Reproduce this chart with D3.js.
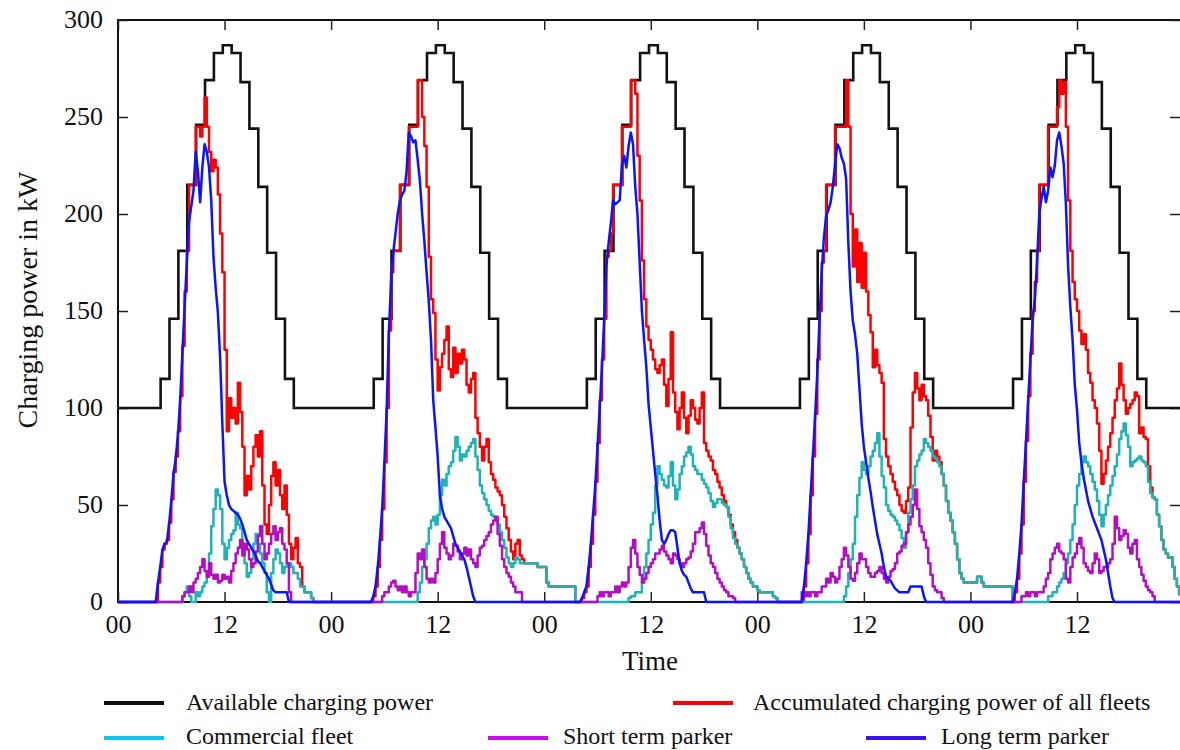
<!DOCTYPE html>
<html><head><meta charset="utf-8">
<script src="https://cdn.jsdelivr.net/npm/d3@7"></script>
<style>
html,body{margin:0;padding:0;background:#fff;}
svg{display:block;font-family:"Liberation Serif","DejaVu Serif","Times New Roman",serif;}
</style></head><body>
<svg id="chart" width="1180" height="750"></svg>
<script>
// ---- DATA ----
// Available charging power, hourly set-points (kW); each level switches ~12 min before the full hour
const availPower = [
100,100,100,100,100,115,146,181,215,246,269,283,287,283,268,244,214,180,146,115,100,100,100,100,
100,100,100,100,100,115,146,181,215,246,269,283,287,283,268,244,214,180,146,115,100,100,100,100,
100,100,100,100,100,115,146,181,215,246,269,283,287,283,268,244,214,180,146,115,100,100,100,100,
100,100,100,100,100,115,146,181,215,246,269,283,287,283,268,244,214,180,146,115,100,100,100,100,
100,100,100,100,100,115,146,181,215,246,269,283,287,283,268,244,214,180,146,115,100,100,100,100
];
// 15-minute samples (kW), t = 0 .. 119.75 h
const longTerm = [
0,0,0,0,0,0,0,0,0,0,0,0,0,0,0,0,0,0,10,18,27,30,31,40,
52,66,74,86,104,128,152,175,196,204,212,232,222,206,224,236,232,224,207,178,162,149,126,92,
62,55,50,48,47,46,45,43,40,36,32,30,28,26,24,21,20,18,16,14,12,9,6,5,
5,5,5,5,5,0,0,0,0,0,0,0,0,0,0,0,0,0,0,0,0,0,0,0,
0,0,0,0,0,0,0,0,0,0,0,0,0,0,0,0,0,0,0,3,8,18,32,48,
72,98,138,165,180,190,200,207,210,212,222,242,240,237,238,228,217,200,186,170,155,135,104,90,
75,55,48,44,42,40,38,34,30,28,26,24,22,18,13,8,3,0,0,0,0,0,0,0,
0,0,0,0,0,0,0,0,0,0,0,0,0,0,0,0,0,0,0,0,0,0,0,0,
0,0,0,0,0,0,0,0,0,0,0,0,0,0,0,0,0,2,5,8,18,30,45,60,
80,100,121,145,173,185,195,207,205,206,207,225,230,224,235,242,236,214,200,175,150,135,121,102,
90,78,66,55,42,32,30,32,35,37,37,36,28,20,16,14,13,10,7,5,5,5,5,5,
5,0,0,0,0,0,0,0,0,0,0,0,0,0,0,0,0,0,0,0,0,0,0,0,
0,0,0,0,0,0,0,0,0,0,0,0,0,0,0,0,0,0,0,0,0,8,20,35,
55,75,95,118,145,170,188,199,202,206,214,225,236,234,229,226,218,185,160,145,138,128,110,92,
80,72,64,57,49,42,35,30,25,18,13,12,11,9,7,6,5,5,5,5,5,8,8,8,
8,8,8,3,0,0,0,0,0,0,0,0,0,0,0,0,0,0,0,0,0,0,0,0,
0,0,0,0,0,0,0,0,0,0,0,0,0,0,0,0,0,0,0,0,5,12,25,40,
62,82,104,125,145,156,175,200,208,214,206,212,224,219,225,238,242,235,226,205,173,152,135,112,
99,82,72,64,58,52,48,44,41,38,35,32,27,22,15,8,2,0,0,0,0,0,0,0,
0,0,0,0,0,0,0,0,0,0,0,0,0,0,0,0,0,0,0,0,0,0,0,0
];
const accumulated = [
0,0,0,0,0,0,0,0,0,0,0,0,0,0,0,0,0,0,10,18,27,30,32,41,
53,67,75,88,106,132,160,181,215,215,215,245,245,240,245,260,245,232,222,228,224,210,190,170,
130,88,105,95,100,92,113,98,80,55,65,58,70,80,86,75,88,60,40,35,50,65,72,60,
68,55,48,60,45,30,22,28,33,20,18,8,5,5,5,2,0,0,0,0,0,0,0,0,
0,0,0,0,0,0,0,0,0,0,0,0,0,0,0,0,0,0,0,3,8,18,32,48,
72,100,140,170,181,181,181,215,215,215,215,245,245,245,245,269,269,250,235,214,178,156,149,125,
109,121,128,135,142,120,116,131,118,128,123,130,125,112,108,115,118,95,87,80,73,80,84,72,
66,63,59,57,55,50,44,38,32,26,22,30,32,24,22,20,20,20,20,20,20,18,18,18,
18,10,8,8,8,8,8,8,8,8,8,8,8,8,0,0,0,2,5,8,18,30,45,62,
82,104,125,146,178,181,190,215,215,215,215,245,245,245,245,269,269,262,230,207,176,156,142,135,
130,125,120,118,122,125,112,101,115,139,108,98,89,100,108,95,87,96,104,100,94,92,100,108,
82,78,75,73,68,66,62,59,55,52,49,45,40,36,32,28,25,22,18,15,12,10,8,8,
6,5,5,5,5,5,5,3,2,0,0,0,0,0,0,0,0,0,0,0,0,8,20,35,
55,75,97,125,150,175,181,215,215,215,215,245,245,245,245,245,269,245,200,173,192,165,185,162,
180,160,148,139,121,130,122,118,113,84,75,70,66,62,58,55,50,47,46,52,59,90,108,118,
110,104,112,106,104,96,85,73,78,75,72,66,60,52,46,42,36,30,22,15,12,10,10,10,
10,10,10,13,13,10,8,8,8,8,8,8,8,8,8,8,8,8,8,0,5,12,25,40,
62,83,106,128,150,165,181,215,215,215,215,245,245,245,245,255,269,262,268,245,207,181,165,156,
150,140,133,138,130,118,113,104,100,92,78,61,66,73,80,87,95,104,110,123,112,104,97,100,
102,104,108,106,87,90,85,84,70,59,54,53,45,39,32,27,25,23,23,18,12,8,4,0
];
const commercial = [
0,0,0,0,0,0,0,0,0,0,0,0,0,0,0,0,0,0,0,0,0,0,0,0,
0,0,0,0,0,3,5,8,3,0,0,5,3,5,8,10,15,25,39,48,58,55,48,30,
22,28,32,35,37,46,40,38,28,20,13,15,22,30,35,30,25,20,15,5,0,15,22,27,
25,20,15,18,20,20,18,15,15,12,8,8,5,5,5,2,0,0,0,0,0,0,0,0,
0,0,0,0,0,0,0,0,0,0,0,0,0,0,0,0,0,0,0,0,0,0,0,0,
0,0,0,0,0,0,0,0,0,0,0,0,0,0,0,5,10,18,22,30,38,42,44,40,
45,55,63,60,66,70,72,78,85,80,73,76,75,78,80,82,84,75,68,60,56,53,50,47,
45,44,42,40,36,32,28,23,20,18,20,23,22,20,20,20,20,20,20,20,20,18,18,18,
18,10,8,8,8,8,8,8,8,8,8,8,8,8,0,0,0,0,0,0,0,0,0,0,
0,0,0,0,0,0,0,0,0,0,0,0,0,0,2,3,3,5,5,5,10,18,25,32,
40,46,60,70,66,63,60,59,65,72,60,53,58,66,70,75,77,80,76,70,68,66,66,63,
61,59,56,52,49,51,53,53,51,50,49,44,38,33,30,28,25,22,18,15,12,10,8,8,
6,5,5,5,5,5,5,3,2,0,0,0,0,0,0,0,0,0,0,0,0,0,0,0,
0,0,0,0,0,0,0,0,0,0,0,0,0,0,0,3,8,15,22,30,44,55,64,72,
68,66,70,75,78,82,87,75,65,59,50,47,45,44,42,40,37,33,28,36,46,53,60,70,
73,76,78,84,82,80,78,75,74,72,70,66,60,52,46,42,36,30,22,15,12,10,10,10,
10,10,10,13,13,10,8,8,8,8,8,8,8,8,8,8,8,8,8,0,0,0,0,0,
0,0,0,0,0,0,0,0,0,0,0,3,3,5,5,8,10,12,15,20,25,32,40,50,
60,66,72,75,72,70,66,62,58,52,45,39,45,50,55,60,65,70,76,84,88,92,86,80,
70,72,73,74,75,73,72,70,62,56,54,53,45,39,32,27,25,23,23,18,12,8,4,0
];
const shortTerm = [
0,0,0,0,0,0,0,0,0,0,0,0,0,0,0,0,0,0,0,0,0,0,0,0,
0,0,0,0,0,3,5,5,8,5,10,12,15,18,22,16,13,20,14,12,14,10,11,14,
12,13,10,16,20,25,28,32,24,30,27,22,18,20,26,34,39,30,22,25,30,35,39,32,
36,38,30,27,20,5,0,0,0,0,0,0,0,0,0,0,0,0,0,0,0,0,0,0,
0,0,0,0,0,0,0,0,0,0,0,0,0,0,0,0,0,0,0,0,0,0,0,3,
5,5,8,10,11,8,6,8,5,8,5,3,5,5,15,25,22,27,18,12,10,12,10,15,
22,30,36,28,25,22,24,30,29,26,22,25,28,24,27,22,20,18,24,28,29,32,34,36,
40,42,44,35,29,22,18,15,13,10,8,5,5,5,0,0,0,0,0,0,0,0,0,0,
0,0,0,0,0,0,0,0,0,0,0,0,0,0,0,0,0,0,0,0,0,0,0,0,
3,5,3,5,5,3,5,5,8,5,8,10,8,10,18,28,32,25,18,14,10,12,15,18,
20,22,25,25,27,29,26,24,22,20,25,24,22,20,18,20,22,23,26,30,36,36,38,41,
35,29,24,20,18,15,12,10,8,6,5,3,3,2,0,0,0,0,0,0,0,0,0,0,
0,0,0,0,0,0,0,0,0,0,0,0,0,0,0,0,0,0,0,0,5,3,5,3,
5,5,3,5,5,8,8,12,10,15,13,10,12,18,22,28,24,18,12,11,15,20,25,22,
22,18,15,13,13,15,16,18,15,12,10,13,16,17,20,25,26,29,30,36,40,44,50,58,
48,39,36,32,28,20,14,8,6,5,5,2,0,0,0,0,0,0,0,0,0,0,0,0,
0,0,0,0,0,0,0,0,0,0,0,0,0,0,0,0,0,0,0,0,0,0,0,3,
3,5,3,5,5,3,5,5,5,8,12,15,22,25,28,30,26,25,22,12,10,18,23,25,
30,33,28,20,18,16,15,20,25,22,15,16,18,18,20,22,30,44,38,32,34,37,35,28,
25,30,32,22,18,14,11,8,6,5,3,0,0,0,0,0,0,0,0,0,0,0,0,0
];
const xTickHours = [0,12,24,36,48,60,72,84,96,108];
const xTickLabels = ["00","12","00","12","00","12","00","12","00","12"];
const yTicks = [0,50,100,150,200,250,300];
const seriesNames = ["Available charging power","Accumulated charging power of all fleets","Commercial fleet","Short term parker","Long term parker"];
const lineColors = ["#111111","#ff0000","#1fb4b4","#b40ec4","#0a14ff"];
const legendColors = ["#111111","#ff0000","#12c4f0","#c80cec","#3a10ee"];

// ---- CHART ----
const svg = d3.select("#chart");
const L = 118, T = 20, R = 1180, B = 602;
const x = d3.scaleLinear().domain([0, 119.6]).range([L, R]);
const y = d3.scaleLinear().domain([0, 300]).range([B, T]);
const STEP = 0.25;

svg.append("defs").append("clipPath").attr("id","clip")
  .append("rect").attr("x", L).attr("y", T - 4).attr("width", R - L).attr("height", B - T + 6);

// frame
svg.append("rect").attr("x", L).attr("y", T).attr("width", R - L + 2).attr("height", B - T)
  .attr("fill","none").attr("stroke","#111").attr("stroke-width",2);

// axes
const fontFam = '"Liberation Serif","DejaVu Serif",serif';
const gx = svg.append("g").attr("transform",`translate(0,${B})`)
  .call(d3.axisBottom(x).tickValues(xTickHours).tickFormat((d,i)=>xTickLabels[i])
        .tickSizeInner(-10).tickSizeOuter(0).tickPadding(13));
const gxt = svg.append("g").attr("transform",`translate(0,${T})`)
  .call(d3.axisTop(x).tickValues(xTickHours).tickFormat("").tickSizeInner(-10).tickSizeOuter(0));
const gy = svg.append("g").attr("transform",`translate(${L},0)`)
  .call(d3.axisLeft(y).tickValues(yTicks).tickSizeInner(-10).tickSizeOuter(0).tickPadding(15));
const gyr = svg.append("g").attr("transform",`translate(${R},0)`)
  .call(d3.axisRight(y).tickValues(yTicks).tickFormat("").tickSizeInner(-10).tickSizeOuter(0));
[gx,gxt,gy,gyr].forEach(g=>{
  g.select(".domain").remove();
  g.attr("font-family", fontFam).attr("font-size", 26);
  g.selectAll(".tick line").attr("stroke","#222").attr("stroke-width",1.5);
  g.selectAll(".tick text").attr("fill","#111");
});
gy.selectAll(".tick text").attr("dy","0.28em");

// axis titles
svg.append("text").attr("x", 650).attr("y", 670).attr("text-anchor","middle")
  .attr("font-size", 27).attr("fill","#111").text("Time");
svg.append("text").attr("transform","translate(37,300) rotate(-90)").attr("text-anchor","middle")
  .attr("font-size", 28).attr("fill","#111").text("Charging power in kW");

// lines
const plot = svg.append("g").attr("clip-path","url(#clip)");
const availPts = availPower.map((v,i)=>[Math.max(0, i - 0.2), v]);
availPts.push([120, availPower[availPower.length-1]]);
const stepLine = d3.line().x(d=>x(d[0])).y(d=>y(d[1])).curve(d3.curveStepAfter);
const smoothLine = d3.line().x(d=>x(d[0])).y(d=>y(d[1]));
const toPts = arr => arr.map((v,i)=>[i*STEP, v]);

plot.append("path").attr("d", stepLine(availPts)).attr("fill","none")
  .attr("stroke", lineColors[0]).attr("stroke-width", 2.6);
[[accumulated,1,stepLine],[commercial,2,stepLine],[shortTerm,3,stepLine],[longTerm,4,smoothLine]]
 .forEach(([arr,ci,gen])=>{
  plot.append("path").attr("d", gen(toPts(arr))).attr("fill","none")
    .attr("stroke", lineColors[ci]).attr("stroke-width", 2.5).attr("stroke-linejoin","round");
 });

// legend
const legendPos = [
  {sx:104, tx:186, y:703, ty:710},
  {sx:673, tx:753, y:703, ty:710},
  {sx:104, tx:186, y:738, ty:744},
  {sx:488, tx:563, y:738, ty:744},
  {sx:866, tx:941, y:738, ty:744}
];
const lg = svg.append("g");
legendPos.forEach((p,i)=>{
  lg.append("line").attr("x1",p.sx).attr("x2",p.sx+60).attr("y1",p.y).attr("y2",p.y)
    .attr("stroke",legendColors[i]).attr("stroke-width",4);
  lg.append("text").attr("x",p.tx).attr("y",p.ty).attr("font-size",24).attr("fill","#111").text(seriesNames[i]);
});
</script>
</body></html>
